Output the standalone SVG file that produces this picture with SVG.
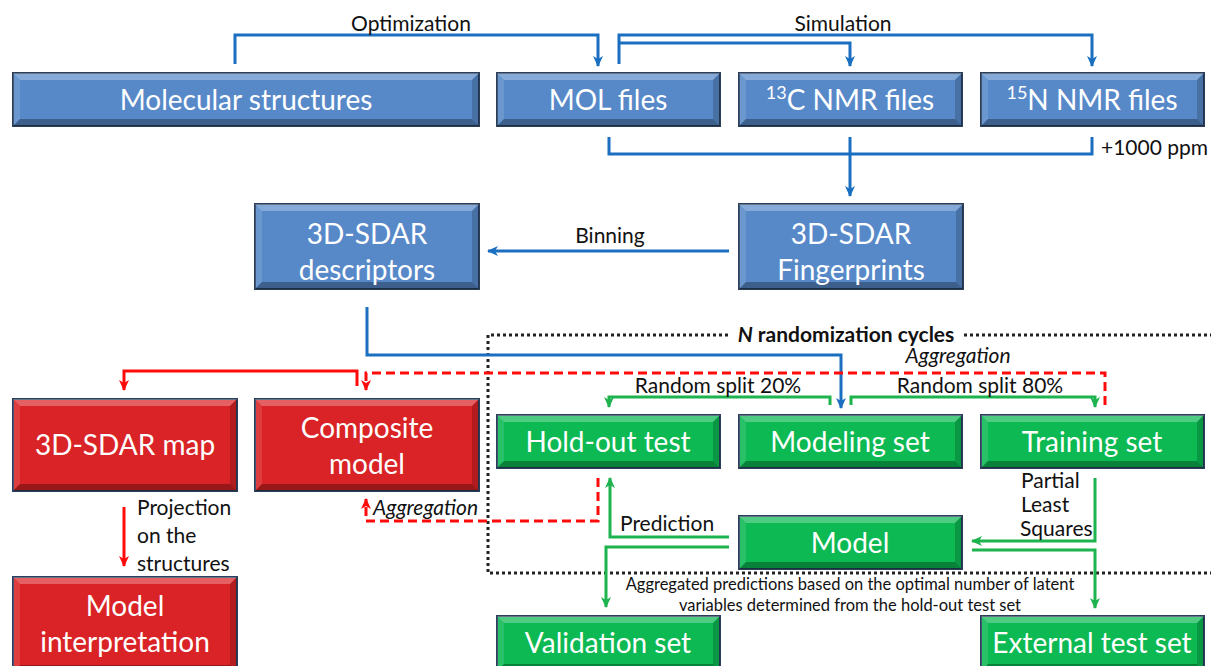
<svg xmlns="http://www.w3.org/2000/svg" xmlns:xlink="http://www.w3.org/1999/xlink" width="1211" height="666" viewBox="0 0 1211 666">
<style>
.box{stroke:#2B3F5C;stroke-width:2}
.blue{fill:#5789C9}
.red{fill:#DA2326}
.green{fill:#0CB952}
.bt{fill:#fff;opacity:.28}
.bl{fill:#fff;opacity:.12}
.br{fill:#000;opacity:.18}
.bb{fill:#000;opacity:.3}
.nt{font-family:Lato,"Liberation Sans",sans-serif;font-size:28px;fill:#fff;text-anchor:middle}
.lb{font-family:Lato,"Liberation Sans",sans-serif;font-size:21px;fill:#111}
.c{text-anchor:middle}
.it{font-style:italic}
.sm{font-size:16.5px}
.cb{fill:none;stroke:#1A6FC0;stroke-width:3}
.cr{fill:none;stroke:#FF0A0A;stroke-width:3}
.cd{fill:none;stroke:#FF0A0A;stroke-width:3;stroke-dasharray:9 5}
.cg{fill:none;stroke:#1DB34E;stroke-width:3}
.dot{fill:none;stroke:#222;stroke-width:3;stroke-dasharray:3 3}
</style>
<defs>
<marker id="ab" markerUnits="userSpaceOnUse" markerWidth="12" markerHeight="12" refX="10" refY="6" orient="auto"><path d="M0,1 L11,6 L0,11 L3,6 z" fill="#1A6FC0"/></marker>
<marker id="ar" markerUnits="userSpaceOnUse" markerWidth="12" markerHeight="12" refX="10" refY="6" orient="auto"><path d="M0,1 L11,6 L0,11 L3,6 z" fill="#FF0A0A"/></marker>
<marker id="ag" markerUnits="userSpaceOnUse" markerWidth="12" markerHeight="12" refX="10" refY="6" orient="auto"><path d="M0,1 L11,6 L0,11 L3,6 z" fill="#1DB34E"/></marker>
<g id="bev-a"><polygon class="bt" points="0,0 223,0 216,7 7,7"/><polygon class="bl" points="0,0 7,7 7,46 0,53"/><polygon class="br" points="223,0 223,53 216,46 216,7"/><polygon class="bb" points="0,53 223,53 216,46 7,46"/></g>
<g id="bev-w"><polygon class="bt" points="0,0 466,0 459,7 7,7"/><polygon class="bl" points="0,0 7,7 7,46 0,53"/><polygon class="br" points="466,0 466,53 459,46 459,7"/><polygon class="bb" points="0,53 466,53 459,46 7,46"/></g>
<g id="bev-b"><polygon class="bt" points="0,0 224,0 217,7 7,7"/><polygon class="bl" points="0,0 7,7 7,78 0,85"/><polygon class="br" points="224,0 224,85 217,78 217,7"/><polygon class="bb" points="0,85 224,85 217,78 7,78"/></g>
<g id="bev-c"><polygon class="bt" points="0,0 224,0 217,7 7,7"/><polygon class="bl" points="0,0 7,7 7,85 0,92"/><polygon class="br" points="224,0 224,92 217,85 217,7"/><polygon class="bb" points="0,92 224,92 217,85 7,85"/></g>
<g id="bev-d"><polygon class="bt" points="0,0 224,0 217,7 7,7"/><polygon class="bl" points="0,0 7,7 7,88 0,95"/><polygon class="br" points="224,0 224,95 217,88 217,7"/><polygon class="bb" points="0,95 224,95 217,88 7,88"/></g>
<g id="bev-e"><polygon class="bt" points="0,0 223,0 216,7 7,7"/><polygon class="bl" points="0,0 7,7 7,48 0,55"/><polygon class="br" points="223,0 223,55 216,48 216,7"/><polygon class="bb" points="0,55 223,55 216,48 7,48"/></g>
</defs>
<rect width="1211" height="666" fill="#fff"/>

<g id="randomization-frame">
<path class="dot" d="M728,335 H488 V573 H1211"/>
<path class="dot" d="M964,335 H1211"/>
<text class="lb c" x="846" y="342" font-weight="bold" font-size="22"><tspan font-style="italic">N</tspan> randomization cycles</text>
</g>

<g id="connectors">
<path class="cb" d="M235,64 V35 H598 V66" marker-end="url(#ab)"/>
<path class="cb" d="M619,64 V35 H1092 V66" marker-end="url(#ab)"/>
<path class="cb" d="M619,43 H850 V66" marker-end="url(#ab)"/>
<path class="cb" d="M609,137 V154 H1092 V137"/>
<path class="cb" d="M850,137 V196" marker-end="url(#ab)"/>
<path class="cb" d="M729,251 H488" marker-end="url(#ab)"/>
<path class="cb" d="M367,307 V355 H841 V408" marker-end="url(#ab)"/>
<path class="cr" d="M357,386 V371 H124 V390" marker-end="url(#ar)"/>
<path class="cr" d="M124,507 V566" marker-end="url(#ar)"/>
<path class="cd" d="M1105,405 V373 H366 V390" marker-end="url(#ar)"/>
<path class="cd" d="M598,478 V521 H366 V499" marker-end="url(#ar)"/>
<path class="cg" d="M830,405 V397 H609 V407" marker-end="url(#ag)"/>
<path class="cg" d="M851,405 V397 H1095 V407" marker-end="url(#ag)"/>
<path class="cg" d="M1095,478 V541 H972" marker-end="url(#ag)"/>
<path class="cg" d="M729,537 H610 V478" marker-end="url(#ag)"/>
<path class="cg" d="M729,547 H606 V607" marker-end="url(#ag)"/>
<path class="cg" d="M972,550 H1095 V608" marker-end="url(#ag)"/>
<text class="lb c" x="411" y="31">Optimization</text>
<text class="lb c" x="843" y="31">Simulation</text>
<text class="lb" x="1101" y="155">+1000 ppm</text>
<text class="lb c" x="610" y="243">Binning</text>
<text class="lb c it" x="958" y="363" font-size="22">Aggregation</text>
<text class="lb c" x="718" y="393">Random split 20%</text>
<text class="lb c" x="980" y="393">Random split 80%</text>
<text class="lb it" x="373" y="515">Aggregation</text>
<text class="lb" x="137" y="515" font-size="23">Projection</text>
<text class="lb" x="137" y="543" font-size="23">on the</text>
<text class="lb" x="137" y="571" font-size="23">structures</text>
<text class="lb" x="620" y="531">Prediction</text>
<text class="lb" x="1021" y="488" font-size="16.5">Partial</text>
<text class="lb" x="1021" y="512" font-size="16.5">Least</text>
<text class="lb" x="1020" y="536" font-size="16">Squares</text>
<text class="lb c sm" x="850" y="590">Aggregated predictions based on the optimal number of latent</text>
<text class="lb c sm" x="850" y="611">variables determined from the hold-out test set</text>
</g>

<g id="molecular-structures"><rect class="box blue" x="13" y="73" width="466" height="53"/><use xlink:href="#bev-w" x="13" y="73"/><text class="nt" x="246" y="110">Molecular structures</text></g>
<g id="mol-files"><rect class="box blue" x="497" y="73" width="223" height="53"/><use xlink:href="#bev-a" x="497" y="73"/><text class="nt" x="608" y="110">MOL files</text></g>
<g id="c13-nmr-files"><rect class="box blue" x="739" y="73" width="223" height="53"/><use xlink:href="#bev-a" x="739" y="73"/><text class="nt" x="850" y="110"><tspan font-size="18" baseline-shift="super">13</tspan>C NMR files</text></g>
<g id="n15-nmr-files"><rect class="box blue" x="981" y="73" width="223" height="53"/><use xlink:href="#bev-a" x="981" y="73"/><text class="nt" x="1092" y="110"><tspan font-size="18" baseline-shift="super">15</tspan>N NMR files</text></g>
<g id="sdar-descriptors"><rect class="box blue" x="255" y="204" width="224" height="85"/><use xlink:href="#bev-b" x="255" y="204"/><text class="nt" x="367" y="244">3D-SDAR</text><text class="nt" x="367" y="280">descriptors</text></g>
<g id="sdar-fingerprints"><rect class="box blue" x="739" y="204" width="224" height="85"/><use xlink:href="#bev-b" x="739" y="204"/><text class="nt" x="851" y="244">3D-SDAR</text><text class="nt" x="851" y="280">Fingerprints</text></g>
<g id="sdar-map"><rect class="box red" x="13" y="399" width="224" height="92"/><use xlink:href="#bev-c" x="13" y="399"/><text class="nt" x="125" y="455">3D-SDAR map</text></g>
<g id="composite-model"><rect class="box red" x="255" y="399" width="224" height="92"/><use xlink:href="#bev-c" x="255" y="399"/><text class="nt" x="367" y="438">Composite</text><text class="nt" x="367" y="474">model</text></g>
<g id="hold-out-test"><rect class="box green" x="497" y="415" width="223" height="53"/><use xlink:href="#bev-a" x="497" y="415"/><text class="nt" x="608" y="452">Hold-out test</text></g>
<g id="modeling-set"><rect class="box green" x="739" y="415" width="223" height="53"/><use xlink:href="#bev-a" x="739" y="415"/><text class="nt" x="850" y="452">Modeling set</text></g>
<g id="training-set"><rect class="box green" x="981" y="415" width="223" height="53"/><use xlink:href="#bev-a" x="981" y="415"/><text class="nt" x="1092" y="452">Training set</text></g>
<g id="model"><rect class="box green" x="739" y="516" width="223" height="53"/><use xlink:href="#bev-a" x="739" y="516"/><text class="nt" x="850" y="553">Model</text></g>
<g id="model-interpretation"><rect class="box red" x="13" y="577" width="224" height="95"/><use xlink:href="#bev-d" x="13" y="577"/><text class="nt" x="125" y="616">Model</text><text class="nt" x="125" y="652">interpretation</text></g>
<g id="validation-set"><rect class="box green" x="497" y="616" width="223" height="55"/><use xlink:href="#bev-e" x="497" y="616"/><text class="nt" x="608" y="653">Validation set</text></g>
<g id="external-test-set"><rect class="box green" x="981" y="616" width="223" height="55"/><use xlink:href="#bev-e" x="981" y="616"/><text class="nt" x="1092" y="653">External test set</text></g>
</svg>
